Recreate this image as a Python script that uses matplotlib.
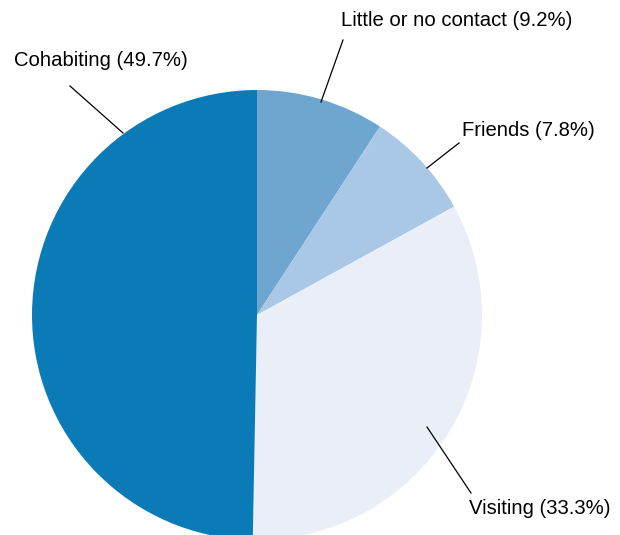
import matplotlib
matplotlib.use("Agg")
import matplotlib.pyplot as plt

labels = ["Little or no contact", "Friends", "Visiting", "Cohabiting"]
values = [9.2, 7.8, 33.3, 49.7]
colors = ["#6fa6d0", "#a8c8e5", "#eaeff7", "#0b7bb8"]

W, H = 620, 535
fig = plt.figure(figsize=(W / 100, H / 100), dpi=100)
ax = fig.add_axes([0, 0, 1, 1])

def py(y):
    return H - y

ax.pie(values, colors=colors, startangle=90, counterclock=False,
       center=(257, py(315)), radius=225, frame=True,
       wedgeprops=dict(linewidth=0))
ax.set_xlim(0, W)
ax.set_ylim(0, H)
ax.set_aspect("equal")
ax.axis("off")

fam = ["Liberation Sans", "DejaVu Sans"]

# label text positions (left x, center y) and leader lines (pixel coords)
label_pos = [(341, 21), (462, 131), (469, 509), (14, 61)]
lines = [((343, 40), (321, 102)), ((459, 143), (427, 168)),
         ((427, 427), (471, 493)), ((70, 86), (123, 133))]

for lab, v, (tx, ty), ((x1, y1), (x2, y2)) in zip(labels, values, label_pos, lines):
    ax.text(tx, py(ty), f"{lab} ({v}%)", ha="left", va="center",
            fontsize=14.6, family=fam, color="black")
    ax.plot([x1, x2], [py(y1), py(y2)], color="black", lw=0.9)

fig.savefig("out.png", dpi=100)
